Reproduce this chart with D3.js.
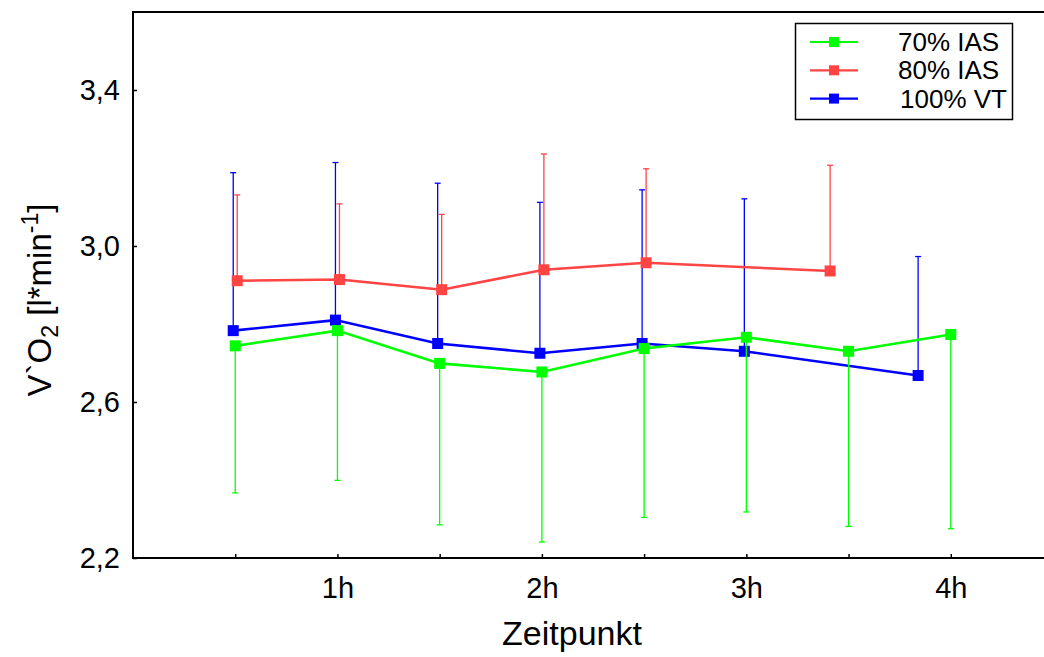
<!DOCTYPE html>
<html>
<head>
<meta charset="utf-8">
<script src="https://cdn.jsdelivr.net/npm/d3@7"></script>
<style>
  body { margin: 0; background: #fff; }
  svg { display: block; font-family: "Liberation Sans", Arial, sans-serif; }
</style>
</head>
<body>
<div id="chart"></div>
<script>
// measurement times (hours) and values per series
const times70 = [0.5, 1, 1.5, 2, 2.5, 3, 3.5, 4];
const mean70 = [2.744, 2.783, 2.699, 2.677, 2.737, 2.766, 2.730, 2.773];
const low70 = [2.367, 2.399, 2.285, 2.241, 2.304, 2.318, 2.281, 2.275];

const times80 = [0.5, 1, 1.5, 2, 2.5, 3.4];
const mean80 = [2.911, 2.914, 2.888, 2.939, 2.957, 2.936];
const high80 = [3.131, 3.108, 3.081, 3.236, 3.198, 3.207];

const times100 = [0.5, 1, 1.5, 2, 2.5, 3, 3.85];
const mean100 = [2.783, 2.810, 2.750, 2.725, 2.750, 2.730, 2.668];
const high100 = [3.188, 3.214, 3.161, 3.112, 3.144, 3.121, 2.973];

const xTicks = [0.5, 1, 1.5, 2, 2.5, 3, 3.5, 4];
const xTickLabels = { 1: '1h', 2: '2h', 3: '3h', 4: '4h' };
const yTicks = [2.2, 2.6, 3.0, 3.4];

const seriesNames = ['70% IAS', '80% IAS', '100% VT'];

const width = 1044,
  height = 657;

const xScale = d3.scaleLinear().domain([0, 4.5]).range([133, 1053]);
const yScale = d3.scaleLinear().domain([2.2, 3.6]).range([558, 12]);

// build the series; e is the one-sided end of the error bar
function makeSeries(name, times, means, ends, color, dx) {
  return {
    name: name,
    color: color,
    dx: dx,
    points: times.map((t, i) => ({ t: t, v: means[i], e: ends[i] })),
  };
}
const series = [
  makeSeries(seriesNames[2], times100, mean100, high100, '#0000ff', -2),
  makeSeries(seriesNames[1], times80, mean80, high80, '#ff4444', 2),
  makeSeries(seriesNames[0], times70, mean70, low70, '#00ff00', 0),
];

const svg = d3.select('#chart').append('svg')
  .attr('width', width)
  .attr('height', height);

// frame
svg.append('path')
  .attr('d', `M${width},${yScale(3.6)}H${xScale(0)}V${yScale(2.2)}H${width}`)
  .attr('fill', 'none')
  .attr('stroke', '#000')
  .attr('stroke-width', 2);

// axes
const xAxis = d3.axisBottom(xScale)
  .tickValues(xTicks)
  .tickFormat((d) => xTickLabels[d] || '')
  .tickSizeInner(-4)
  .tickSizeOuter(0)
  .tickPadding(19);
const gx = svg.append('g')
  .attr('transform', `translate(0,${yScale(2.2)})`)
  .call(xAxis);
gx.select('.domain').remove();

const yAxis = d3.axisLeft(yScale)
  .tickValues(yTicks)
  .tickFormat((d) => d3.format('.1f')(d).replace('.', ','))
  .tickSizeInner(-4)
  .tickSizeOuter(0)
  .tickPadding(13);
const gy = svg.append('g')
  .attr('transform', `translate(${xScale(0)},0)`)
  .call(yAxis);
gy.select('.domain').remove();

svg.selectAll('.tick line').attr('stroke', '#000').attr('stroke-width', 1.5);
svg.selectAll('.tick text')
  .attr('fill', '#000')
  .style('font-size', '29px')
  .style('font-family', '"Liberation Sans", Arial, sans-serif');

// axis titles
svg.append('text')
  .attr('x', 572)
  .attr('y', 645)
  .attr('text-anchor', 'middle')
  .style('font-size', '34px')
  .text('Zeitpunkt');

const yTitle = svg.append('text')
  .attr('transform', 'translate(51,300) rotate(-90)')
  .attr('text-anchor', 'middle')
  .style('font-size', '33px');
yTitle.append('tspan').text('V`O');
yTitle.append('tspan').attr('dy', 7).style('font-size', '23px').text('2');
yTitle.append('tspan').attr('dy', -7).text(' [l*min');
yTitle.append('tspan').attr('dy', -13).style('font-size', '23px').text('-1');
yTitle.append('tspan').attr('dy', 13).text(']');

// error bars, lines and markers
const line = d3.line()
  .x((d) => xScale(d.t))
  .y((d) => yScale(d.v));

const gs = svg.selectAll('g.series')
  .data(series)
  .join('g')
  .attr('class', 'series')
  .attr('transform', (s) => `translate(${s.dx},0)`);

gs.each(function (s) {
  const g = d3.select(this);
  g.selectAll('line.err')
    .data(s.points)
    .join('line')
    .attr('class', 'err')
    .attr('x1', (d) => xScale(d.t))
    .attr('x2', (d) => xScale(d.t))
    .attr('y1', (d) => yScale(d.v))
    .attr('y2', (d) => yScale(d.e))
    .attr('stroke', s.color)
    .attr('stroke-width', 1.3);
  g.selectAll('line.cap')
    .data(s.points)
    .join('line')
    .attr('class', 'cap')
    .attr('x1', (d) => xScale(d.t) - 3)
    .attr('x2', (d) => xScale(d.t) + 3)
    .attr('y1', (d) => yScale(d.e))
    .attr('y2', (d) => yScale(d.e))
    .attr('stroke', s.color)
    .attr('stroke-width', 1.3);
  g.append('path')
    .datum(s.points)
    .attr('d', line)
    .attr('fill', 'none')
    .attr('stroke', s.color)
    .attr('stroke-width', 2.6);
  g.selectAll('rect.mark')
    .data(s.points)
    .join('rect')
    .attr('class', 'mark')
    .attr('x', (d) => xScale(d.t) - 5.5)
    .attr('y', (d) => yScale(d.v) - 5.5)
    .attr('width', 11)
    .attr('height', 11)
    .attr('fill', s.color);
});

// legend
const legend = svg.append('g');
legend.append('rect')
  .attr('x', 795.5)
  .attr('y', 23.5)
  .attr('width', 217)
  .attr('height', 96)
  .attr('fill', '#fff')
  .attr('stroke', '#000')
  .attr('stroke-width', 1.5);

const legendItems = series.slice().reverse();
legendItems.forEach((s, i) => {
  const y = 42 + i * 28.3;
  legend.append('line')
    .attr('x1', 810).attr('x2', 858)
    .attr('y1', y).attr('y2', y)
    .attr('stroke', s.color)
    .attr('stroke-width', 2.2);
  legend.append('rect')
    .attr('x', 829).attr('y', y - 5)
    .attr('width', 10).attr('height', 10)
    .attr('fill', s.color);
  legend.append('text')
    .attr('x', i === 2 ? 900 : 898)
    .attr('y', y + 9)
    .style('font-size', '26px')
    .text(s.name);
});
</script>
</body>
</html>
